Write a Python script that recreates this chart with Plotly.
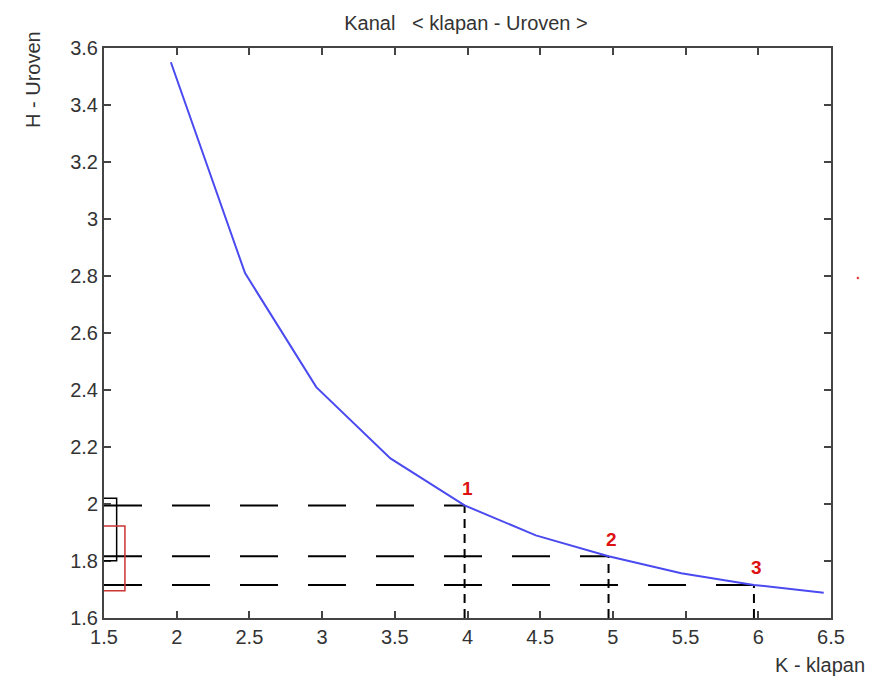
import plotly.graph_objects as go

# ---- data ----
k_klapan = [1.96, 2.47, 2.96, 3.47, 3.98, 4.47, 4.97, 5.47, 5.97, 6.45]
h_uroven = [3.55, 2.81, 2.41, 2.16, 1.995, 1.89, 1.817, 1.757, 1.716, 1.689]

mark_x = [3.98, 4.97, 5.97]
mark_y = [1.995, 1.817, 1.716]
mark_labels = ["1", "2", "3"]

x_min, x_max = 1.5, 6.5
y_min, y_max = 1.6, 3.6

x_ticks = [1.5, 2, 2.5, 3, 3.5, 4, 4.5, 5, 5.5, 6, 6.5]
x_ticktext = ["1.5", "2", "2.5", "3", "3.5", "4", "4.5", "5", "5.5", "6", "6.5"]
y_ticks = [1.6, 1.8, 2.0, 2.2, 2.4, 2.6, 2.8, 3.0, 3.2, 3.4, 3.6]
y_ticktext = ["1.6", "1.8", "2", "2.2", "2.4", "2.6", "2.8", "3", "3.2", "3.4", "3.6"]

black_box_x = [1.473, 1.587]
black_box_y = [1.801, 2.02]
red_box_x = [1.484, 1.644]
red_box_y = [1.696, 1.923]

FONT = "Liberation Sans, Arial, sans-serif"
TXT = "#333333"

fig = go.Figure()

# horizontal dashed guide lines (axis -> point)
for mx, my in zip(mark_x, mark_y):
    fig.add_trace(go.Scatter(
        x=[x_min, mx], y=[my, my], mode="lines",
        line=dict(color="black", width=2, dash="38px,30px"),
        hoverinfo="skip", showlegend=False))
# vertical dashed guide lines (axis -> point)
for mx, my in zip(mark_x, mark_y):
    fig.add_trace(go.Scatter(
        x=[mx, mx], y=[y_min, my], mode="lines",
        line=dict(color="black", width=2, dash="9px,6px"),
        hoverinfo="skip", showlegend=False))

# main curve
fig.add_trace(go.Scatter(
    x=k_klapan, y=h_uroven, mode="lines",
    line=dict(color="#4a4af0", width=2),
    showlegend=False))

# rectangles near the left axis
fig.add_shape(type="rect", xref="x", yref="y",
              x0=black_box_x[0], x1=black_box_x[1], y0=black_box_y[0], y1=black_box_y[1],
              line=dict(color="black", width=1.5))
fig.add_shape(type="rect", xref="x", yref="y",
              x0=red_box_x[0], x1=red_box_x[1], y0=red_box_y[0], y1=red_box_y[1],
              line=dict(color="#cc3333", width=1.5))

# stray red dot right of the plot
fig.add_shape(type="circle", xref="paper", yref="paper",
              xsizemode="pixel", ysizemode="pixel",
              xanchor=1.037, yanchor=0.5965, x0=-1, x1=1, y0=-1, y1=1,
              line=dict(color="#dd2222", width=0.5), fillcolor="#dd2222")

axis_common = dict(
    showgrid=False, zeroline=False,
    showline=True, linecolor="#444444", linewidth=2, mirror="ticks",
    ticks="inside", ticklen=7, tickwidth=1.5, tickcolor="#444444",
    tickfont=dict(family=FONT, size=20, color=TXT),
)

# point label annotations built from the mark arrays
label_annotations = [
    dict(x=mx, y=my, text=lab, xref="x", yref="y", showarrow=False,
         xanchor="center", yanchor="middle", xshift=3, yshift=17,
         font=dict(family=FONT, size=19, color="#dd1111", weight="bold"))
    for mx, my, lab in zip(mark_x, mark_y, mark_labels)
]

# the page body has an 8px margin: figure coords = screen coords - 8
fig.update_layout(
    width=885, height=686,
    margin=dict(l=96, r=62, t=40, b=76),
    paper_bgcolor="white", plot_bgcolor="white",
    title=dict(text="Kanal\u00a0\u00a0\u00a0< klapan - Uroven >",
               x=458 / 885, xanchor="center", xref="container",
               y=1 - 15 / 686, yanchor="middle", yref="container",
               font=dict(family=FONT, size=20, color=TXT)),
    xaxis=dict(range=[x_min, x_max], tickvals=x_ticks, ticktext=x_ticktext,
               ticklabelstandoff=0, **axis_common),
    yaxis=dict(range=[y_min, y_max], tickvals=y_ticks, ticktext=y_ticktext,
               ticklabelstandoff=0, **axis_common),
    annotations=label_annotations + [
        dict(text="K - klapan", xref="paper", yref="paper",
             x=(820 - 104) / 727, y=(618 - 665) / 570,
             xanchor="center", yanchor="middle", showarrow=False,
             font=dict(family=FONT, size=20, color=TXT)),
        dict(text="H - Uroven", xref="paper", yref="paper",
             x=(33 - 104) / 727, y=(618 - 80) / 570,
             xanchor="center", yanchor="middle", showarrow=False, textangle=-90,
             font=dict(family=FONT, size=20, color=TXT)),
    ],
)

fig.write_html("out.html")
